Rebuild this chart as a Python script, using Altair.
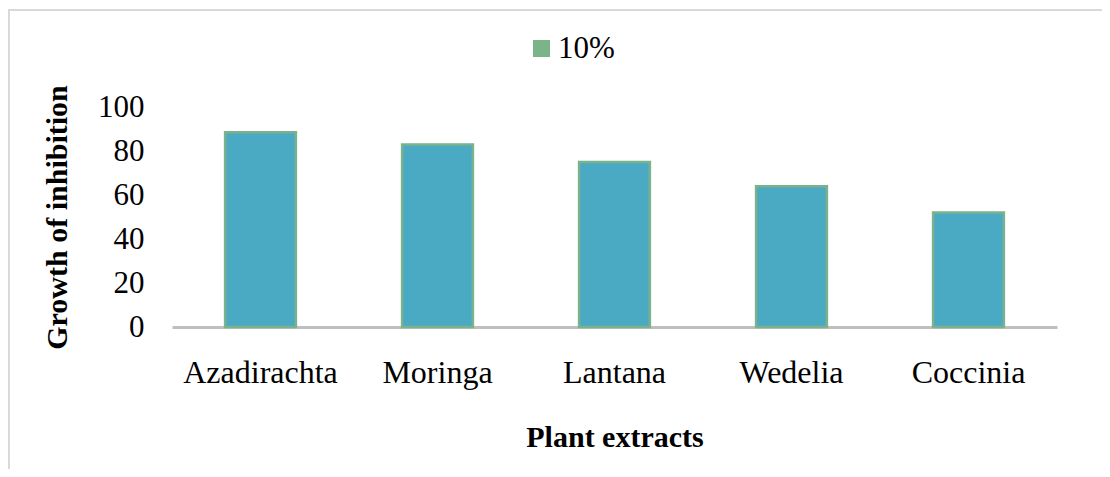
import altair as alt
import pandas as pd

plants = ["Azadirachta", "Moringa", "Lantana", "Wedelia", "Coccinia"]
inhibition = [88.5, 83.0, 75.0, 64.0, 52.0]
series = ["10%"]
y_ticks = [0, 20, 40, 60, 80, 100]

df = pd.DataFrame({"plant": plants, "value": inhibition, "series": series * len(plants)})

FONT = "Liberation Serif"

x_enc = alt.X("plant:N", sort=plants,
              scale=alt.Scale(paddingInner=0.6, paddingOuter=0.3),
              axis=alt.Axis(title="Plant extracts", labelAngle=0, labelFontSize=32,
                            labelFont=FONT, labelColor="#000000", labelPadding=30,
                            titleFont=FONT, titleFontSize=30, titleFontWeight="bold",
                            titleColor="#000000", titlePadding=34,
                            domainColor="#bfbfbf", domainWidth=3, ticks=False, grid=False))
y_enc = alt.Y("value:Q", scale=alt.Scale(domain=[0, 100], nice=False),
              axis=alt.Axis(title="Growth of inhibition", values=y_ticks, labelFontSize=31,
                            labelFont=FONT, labelColor="#000000", labelPadding=28,
                            titleFont=FONT, titleFontSize=30, titleFontWeight="bold",
                            titleColor="#000000", titlePadding=25,
                            domain=False, ticks=False, grid=False))

bars = alt.Chart(df).mark_bar(fill="#4aaac4", stroke="#79b28c", strokeWidth=2.5).encode(
    x=x_enc, y=y_enc)

legend_layer = alt.Chart(df).transform_filter("false").mark_square(filled=True, opacity=1).encode(
    x=alt.X("plant:N", sort=plants),
    y=alt.Y("value:Q"),
    color=alt.Color("series:N",
                    scale=alt.Scale(domain=series, range=["#7cb48a"]),
                    legend=alt.Legend(title=None, orient="none", legendX=354, legendY=-74,
                                      symbolType="square", symbolSize=289, symbolOpacity=1,
                                      labelFont=FONT, labelFontSize=31, labelColor="#000000",
                                      labelOffset=1, padding=0, symbolStrokeWidth=0)))

border_top = alt.Chart(df).mark_rule(color="#d9d9d9", strokeWidth=2).encode(
    x=alt.value(-164), x2=alt.value(940), y=alt.value(-97))
border_left = alt.Chart(df).mark_rule(color="#d9d9d9", strokeWidth=2).encode(
    x=alt.value(-163), y=alt.value(-97), y2=alt.value(400))

chart = alt.layer(border_top, border_left, bars, legend_layer).properties(
    width=885, height=220,
    autosize=alt.AutoSizeParams(type="none"),
    padding={"left": 164, "top": 99, "right": 45, "bottom": 142},
    background="#ffffff",
).configure_view(stroke=None)

chart.save("out.html", embed_options={"renderer": "svg", "actions": False})
